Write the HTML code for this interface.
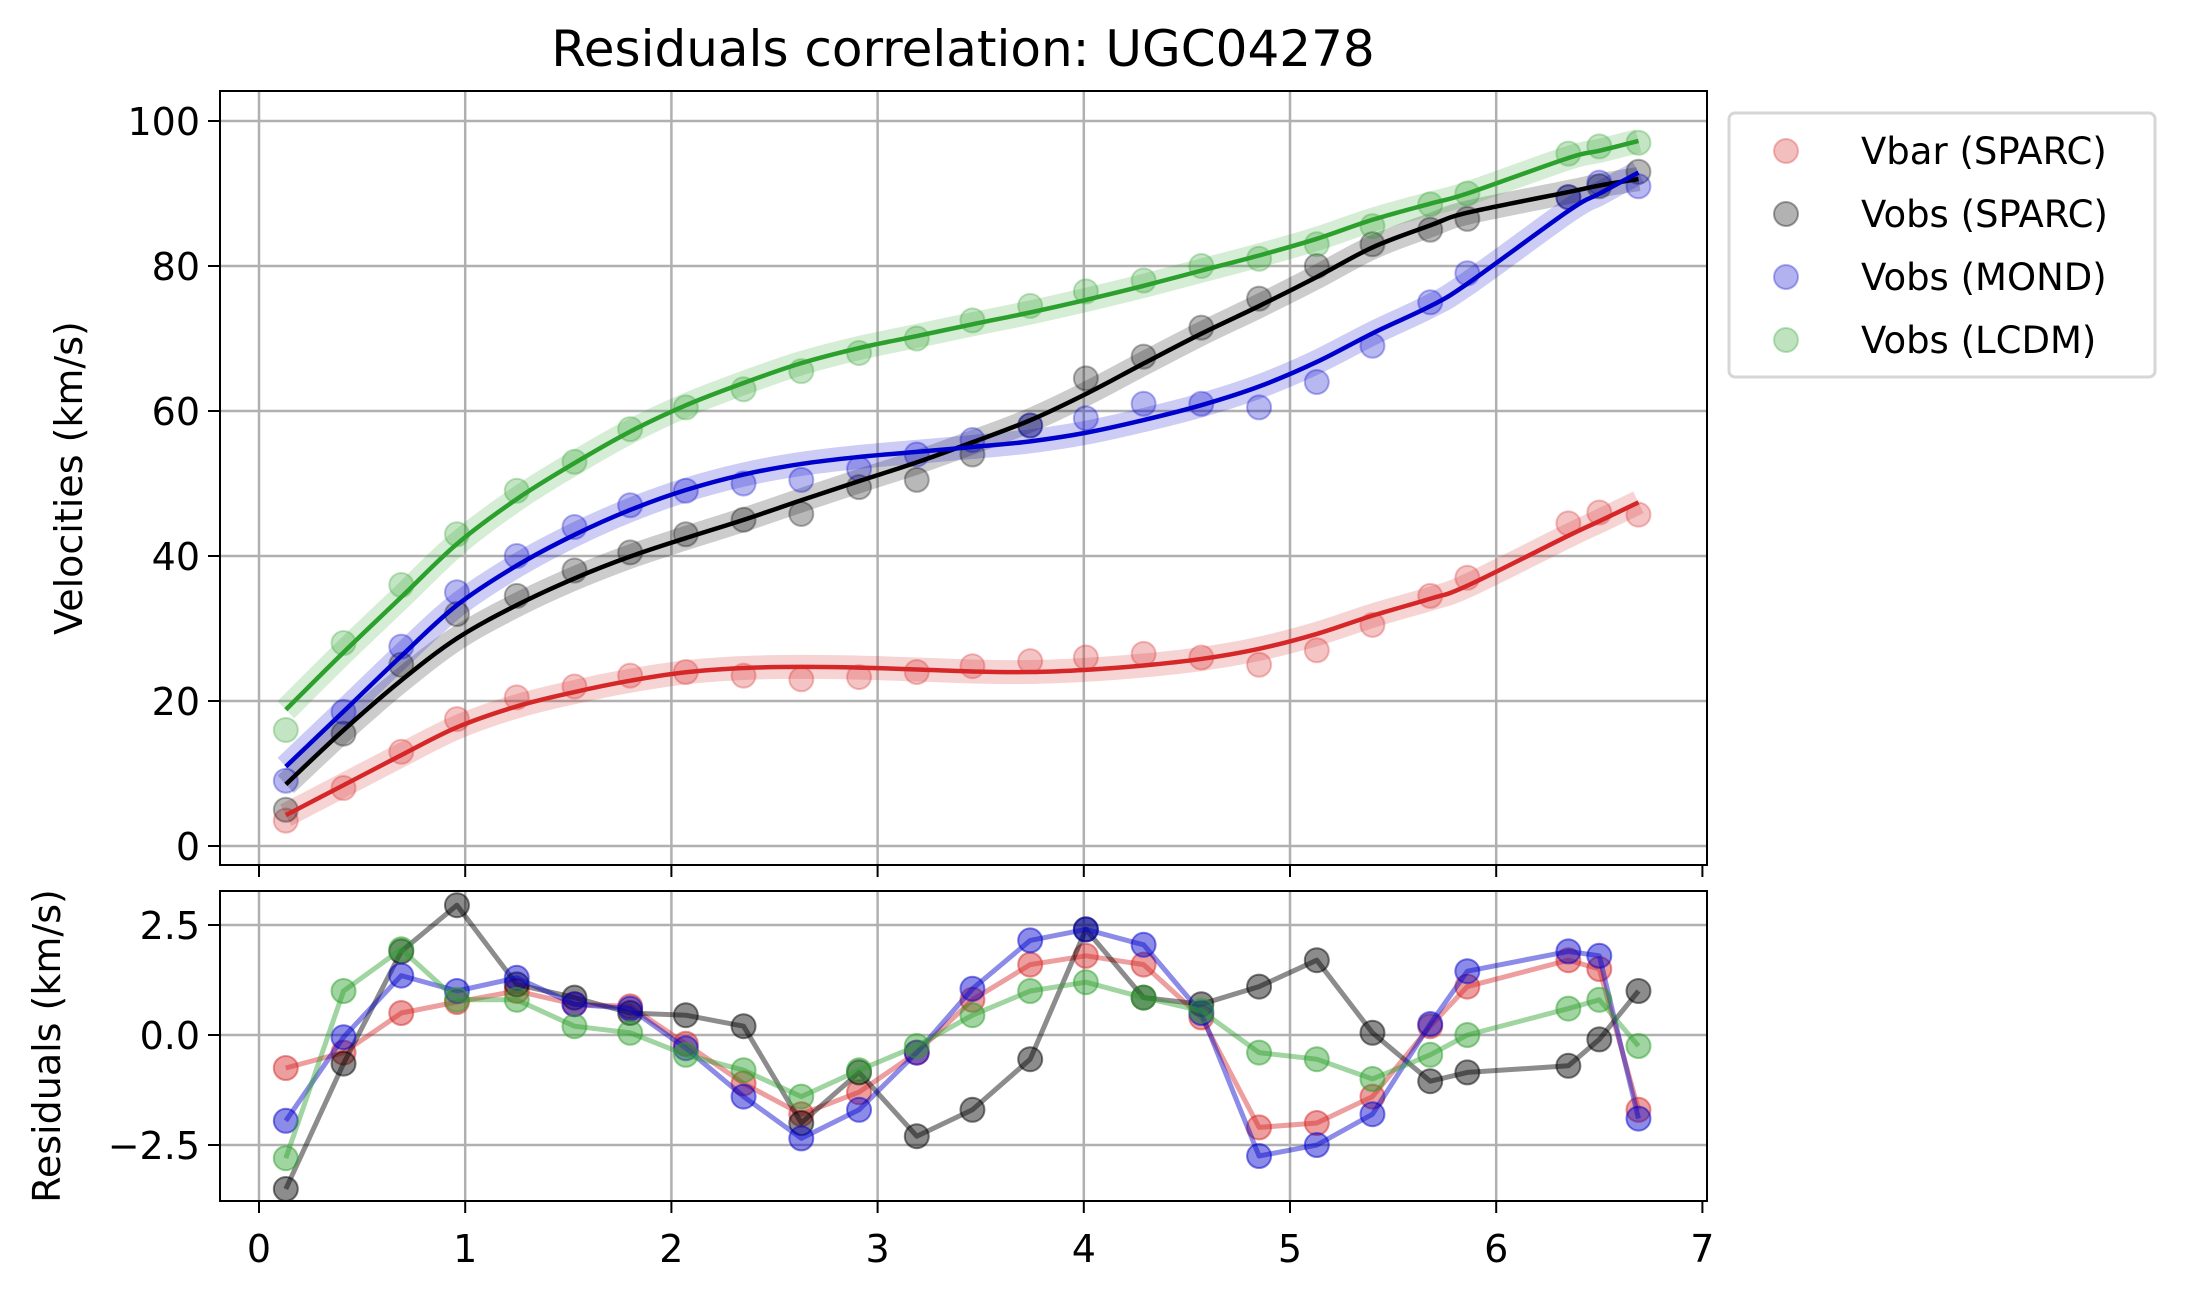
<!DOCTYPE html>
<html><head><meta charset="utf-8"><style>
body{margin:0;background:#fff}
svg{display:block;font-family:"DejaVu Sans","Liberation Sans",sans-serif}
</style></head><body>
<svg id="c" width="2185" height="1302" viewBox="0 0 2185 1302" xmlns="http://www.w3.org/2000/svg">
<text x="963" y="66" font-size="50" text-anchor="middle">Residuals correlation: UGC04278</text>
<text transform="translate(82,478) rotate(-90)" font-size="38" text-anchor="middle">Velocities (km/s)</text>
<text transform="translate(60,1046) rotate(-90)" font-size="38" text-anchor="middle">Residuals (km/s)</text>
<g id="topPanel"></g>
<g id="botPanel"></g>
<g>
<rect x="1729" y="113" width="426" height="264" rx="6" fill="#fff" stroke="#d6d6d6" stroke-width="3"/>
<g><circle cx="1786" cy="151" r="12" fill="rgba(214,39,40,0.3)" stroke="rgba(214,39,40,0.3)" stroke-width="2"/><text x="1861" y="164" font-size="37">Vbar (SPARC)</text></g>
<g><circle cx="1786" cy="214" r="12" fill="rgba(0,0,0,0.3)" stroke="rgba(0,0,0,0.35)" stroke-width="2"/><text x="1861" y="227" font-size="37">Vobs (SPARC)</text></g>
<g><circle cx="1786" cy="277" r="12" fill="rgba(0,0,205,0.3)" stroke="rgba(0,0,205,0.3)" stroke-width="2"/><text x="1861" y="290" font-size="37">Vobs (MOND)</text></g>
<g><circle cx="1786" cy="340" r="12" fill="rgba(44,160,44,0.3)" stroke="rgba(44,160,44,0.3)" stroke-width="2"/><text x="1861" y="353" font-size="37">Vobs (LCDM)</text></g>
</g>
</svg>
<script>
const radius=[0.13,0.41,0.69,0.96,1.25,1.53,1.80,2.07,2.35,2.63,2.91,3.19,3.46,3.74,4.01,4.29,4.57,4.85,5.13,5.40,5.68,5.86,6.35,6.50,6.69];
const vbar=[3.5,8,13,17.5,20.5,22,23.5,24,23.5,23,23.3,24,24.8,25.5,26,26.5,26,25,27,30.5,34.5,37,44.5,46,45.7];
const vobsSparc=[5,15.5,25,32,34.5,38,40.5,43,45,45.8,49.5,50.5,54,58,64.5,67.5,71.5,75.5,80,83,85,86.5,89.5,91,93];
const vobsMond=[9,18.5,27.5,35,40,44,47,49,50,50.5,52,54,56,58,59,61,61,60.5,64,69,75,79,89.5,91.5,91];
const vobsLcdm=[16,28,36,43,49,53,57.5,60.5,63,65.5,68,70,72.5,74.5,76.5,78,80,81,83,85.5,88.5,90,95.5,96.5,97];
const resVbar=[-0.75,-0.4,0.5,0.75,1.0,0.7,0.65,-0.2,-1.1,-1.8,-1.3,-0.4,0.8,1.6,1.8,1.6,0.4,-2.1,-2.0,-1.4,0.2,1.1,1.7,1.5,-1.7];
const resSparc=[-3.5,-0.65,1.9,2.95,1.15,0.85,0.5,0.45,0.2,-2.0,-0.85,-2.3,-1.7,-0.55,2.4,0.85,0.7,1.1,1.7,0.05,-1.05,-0.85,-0.7,-0.1,1.0];
const resMond=[-1.95,-0.05,1.35,1.0,1.3,0.7,0.6,-0.3,-1.4,-2.35,-1.7,-0.4,1.05,2.15,2.4,2.05,0.5,-2.75,-2.5,-1.8,0.25,1.45,1.9,1.8,-1.9];
const resLcdm=[-2.8,1.0,1.95,0.8,0.8,0.2,0.05,-0.45,-0.8,-1.4,-0.8,-0.25,0.45,1.0,1.2,0.85,0.55,-0.4,-0.55,-1.0,-0.45,0.0,0.6,0.8,-0.25];
const xTicks=[0,1,2,3,4,5,6,7];
const yTicksTop=[0,20,40,60,80,100];
const yTicksBot=[-2.5,0.0,2.5];
const yTickLabelsBot=["\u22122.5","0.0","2.5"];

const NS="http://www.w3.org/2000/svg";
const L=220,R=1707,T1=91,B1=865,T2=891,B2=1201;
const X=v=>259+v*206.2;
const Y1=v=>846-v*7.25;
const Y2=v=>1035-v*44;
function el(p,tag,a){const e=document.createElementNS(NS,tag);for(const k in a)e.setAttribute(k,a[k]);p.appendChild(e);return e;}
function smooth(pts){let d="M"+pts[0][0]+","+pts[0][1];for(let i=0;i<pts.length-1;i++){const p0=pts[Math.max(0,i-1)],p1=pts[i],p2=pts[i+1],p3=pts[Math.min(pts.length-1,i+2)];d+=" C"+(p1[0]+(p2[0]-p0[0])/6)+","+(p1[1]+(p2[1]-p0[1])/6)+" "+(p2[0]-(p3[0]-p1[0])/6)+","+(p2[1]-(p3[1]-p1[1])/6)+" "+p2[0]+","+p2[1];}return d;}
function fitPts(s){
 const f=s.v.map((v,i)=>v-s.r[i]);
 const g=f.map((v,i)=>{
  if(i===0||i===f.length-1)return v;
  const a=radius[i]-radius[i-1],b=radius[i+1]-radius[i];
  if(Math.abs(a-b)>0.1)return v;
  return (f[i-1]+2*v+f[i+1])/4;});
 return radius.map((x,i)=>[X(x),Y1(g[i])]);
}

const gTop=document.getElementById('topPanel'),gBot=document.getElementById('botPanel');
for(const [g,T,B] of [[gTop,T1,B1],[gBot,T2,B2]]){
 xTicks.forEach(t=>{const x=X(t);
  if(t<7){const gl=el(g,'line',{x1:x,x2:x,y1:T,y2:B,stroke:'#b0b0b0','stroke-width':2.5});
  }
  const tk=el(g,'line',{x1:x,x2:x,y1:B,y2:B+12,stroke:'#000','stroke-width':2});
  });
}
yTicksTop.forEach(t=>{const y=Y1(t);
 const gl=el(gTop,'line',{x1:L,x2:R,y1:y,y2:y,stroke:'#b0b0b0','stroke-width':2.5});
 
 el(gTop,'line',{x1:L-12,x2:L,y1:y,y2:y,stroke:'#000','stroke-width':2});
 const tx=el(gTop,'text',{x:L-20,y:y+14,'font-size':38,'text-anchor':'end'});tx.textContent=t;
 });
yTicksBot.forEach((t,i)=>{const y=Y2(t);
 const gl=el(gBot,'line',{x1:L,x2:R,y1:y,y2:y,stroke:'#b0b0b0','stroke-width':2.5});
 
 el(gBot,'line',{x1:L-12,x2:L,y1:y,y2:y,stroke:'#000','stroke-width':2});
 const tx=el(gBot,'text',{x:L-20,y:y+14,'font-size':38,'text-anchor':'end'});tx.textContent=yTickLabelsBot[i];
 });
xTicks.forEach(t=>{const tx=el(gBot,'text',{x:X(t),y:1262,'font-size':38,'text-anchor':'middle'});tx.textContent=t;
 });

const series=[
 {n:'vbar',v:vbar,r:resVbar,c:'214,39,40',line:'#d62728'},
 {n:'vobs-sparc',v:vobsSparc,r:resSparc,c:'0,0,0',line:'#000'},
 {n:'vobs-mond',v:vobsMond,r:resMond,c:'0,0,205',line:'#0000cd'},
 {n:'vobs-lcdm',v:vobsLcdm,r:resLcdm,c:'44,160,44',line:'#2ca02c'}];
series.forEach(s=>{
 const band=el(gTop,'path',{d:smooth(fitPts(s)),fill:'none',stroke:`rgba(${s.c},0.2)`,'stroke-width':24,'stroke-linecap':'butt'});
 
});
series.forEach(s=>{
 radius.forEach((x,i)=>{const c=el(gTop,'circle',{cx:X(x),cy:Y1(s.v[i]),r:12,fill:`rgba(${s.c},0.28)`,stroke:`rgba(${s.c},0.3)`,'stroke-width':2});
  });
});
series.forEach(s=>{
 const ln=el(gTop,'path',{d:smooth(fitPts(s)),fill:'none',stroke:s.line,'stroke-width':4.5});
 
});
series.forEach(s=>{
 const pts=radius.map((x,i)=>X(x)+','+Y2(s.r[i])).join(' ');
 const pl=el(gBot,'polyline',{points:pts,fill:'none',stroke:`rgba(${s.c},0.45)`,'stroke-width':5,'stroke-linejoin':'round'});
 
 radius.forEach((x,i)=>{const c=el(gBot,'circle',{cx:X(x),cy:Y2(s.r[i]),r:12,fill:`rgba(${s.c},0.45)`,stroke:`rgba(${s.c},0.5)`,'stroke-width':2});
  });
});
el(gTop,'rect',{x:L,y:T1,width:R-L,height:B1-T1,fill:'none',stroke:'#000','stroke-width':2});
el(gBot,'rect',{x:L,y:T2,width:R-L,height:B2-T2,fill:'none',stroke:'#000','stroke-width':2});
</script>
</body></html>
